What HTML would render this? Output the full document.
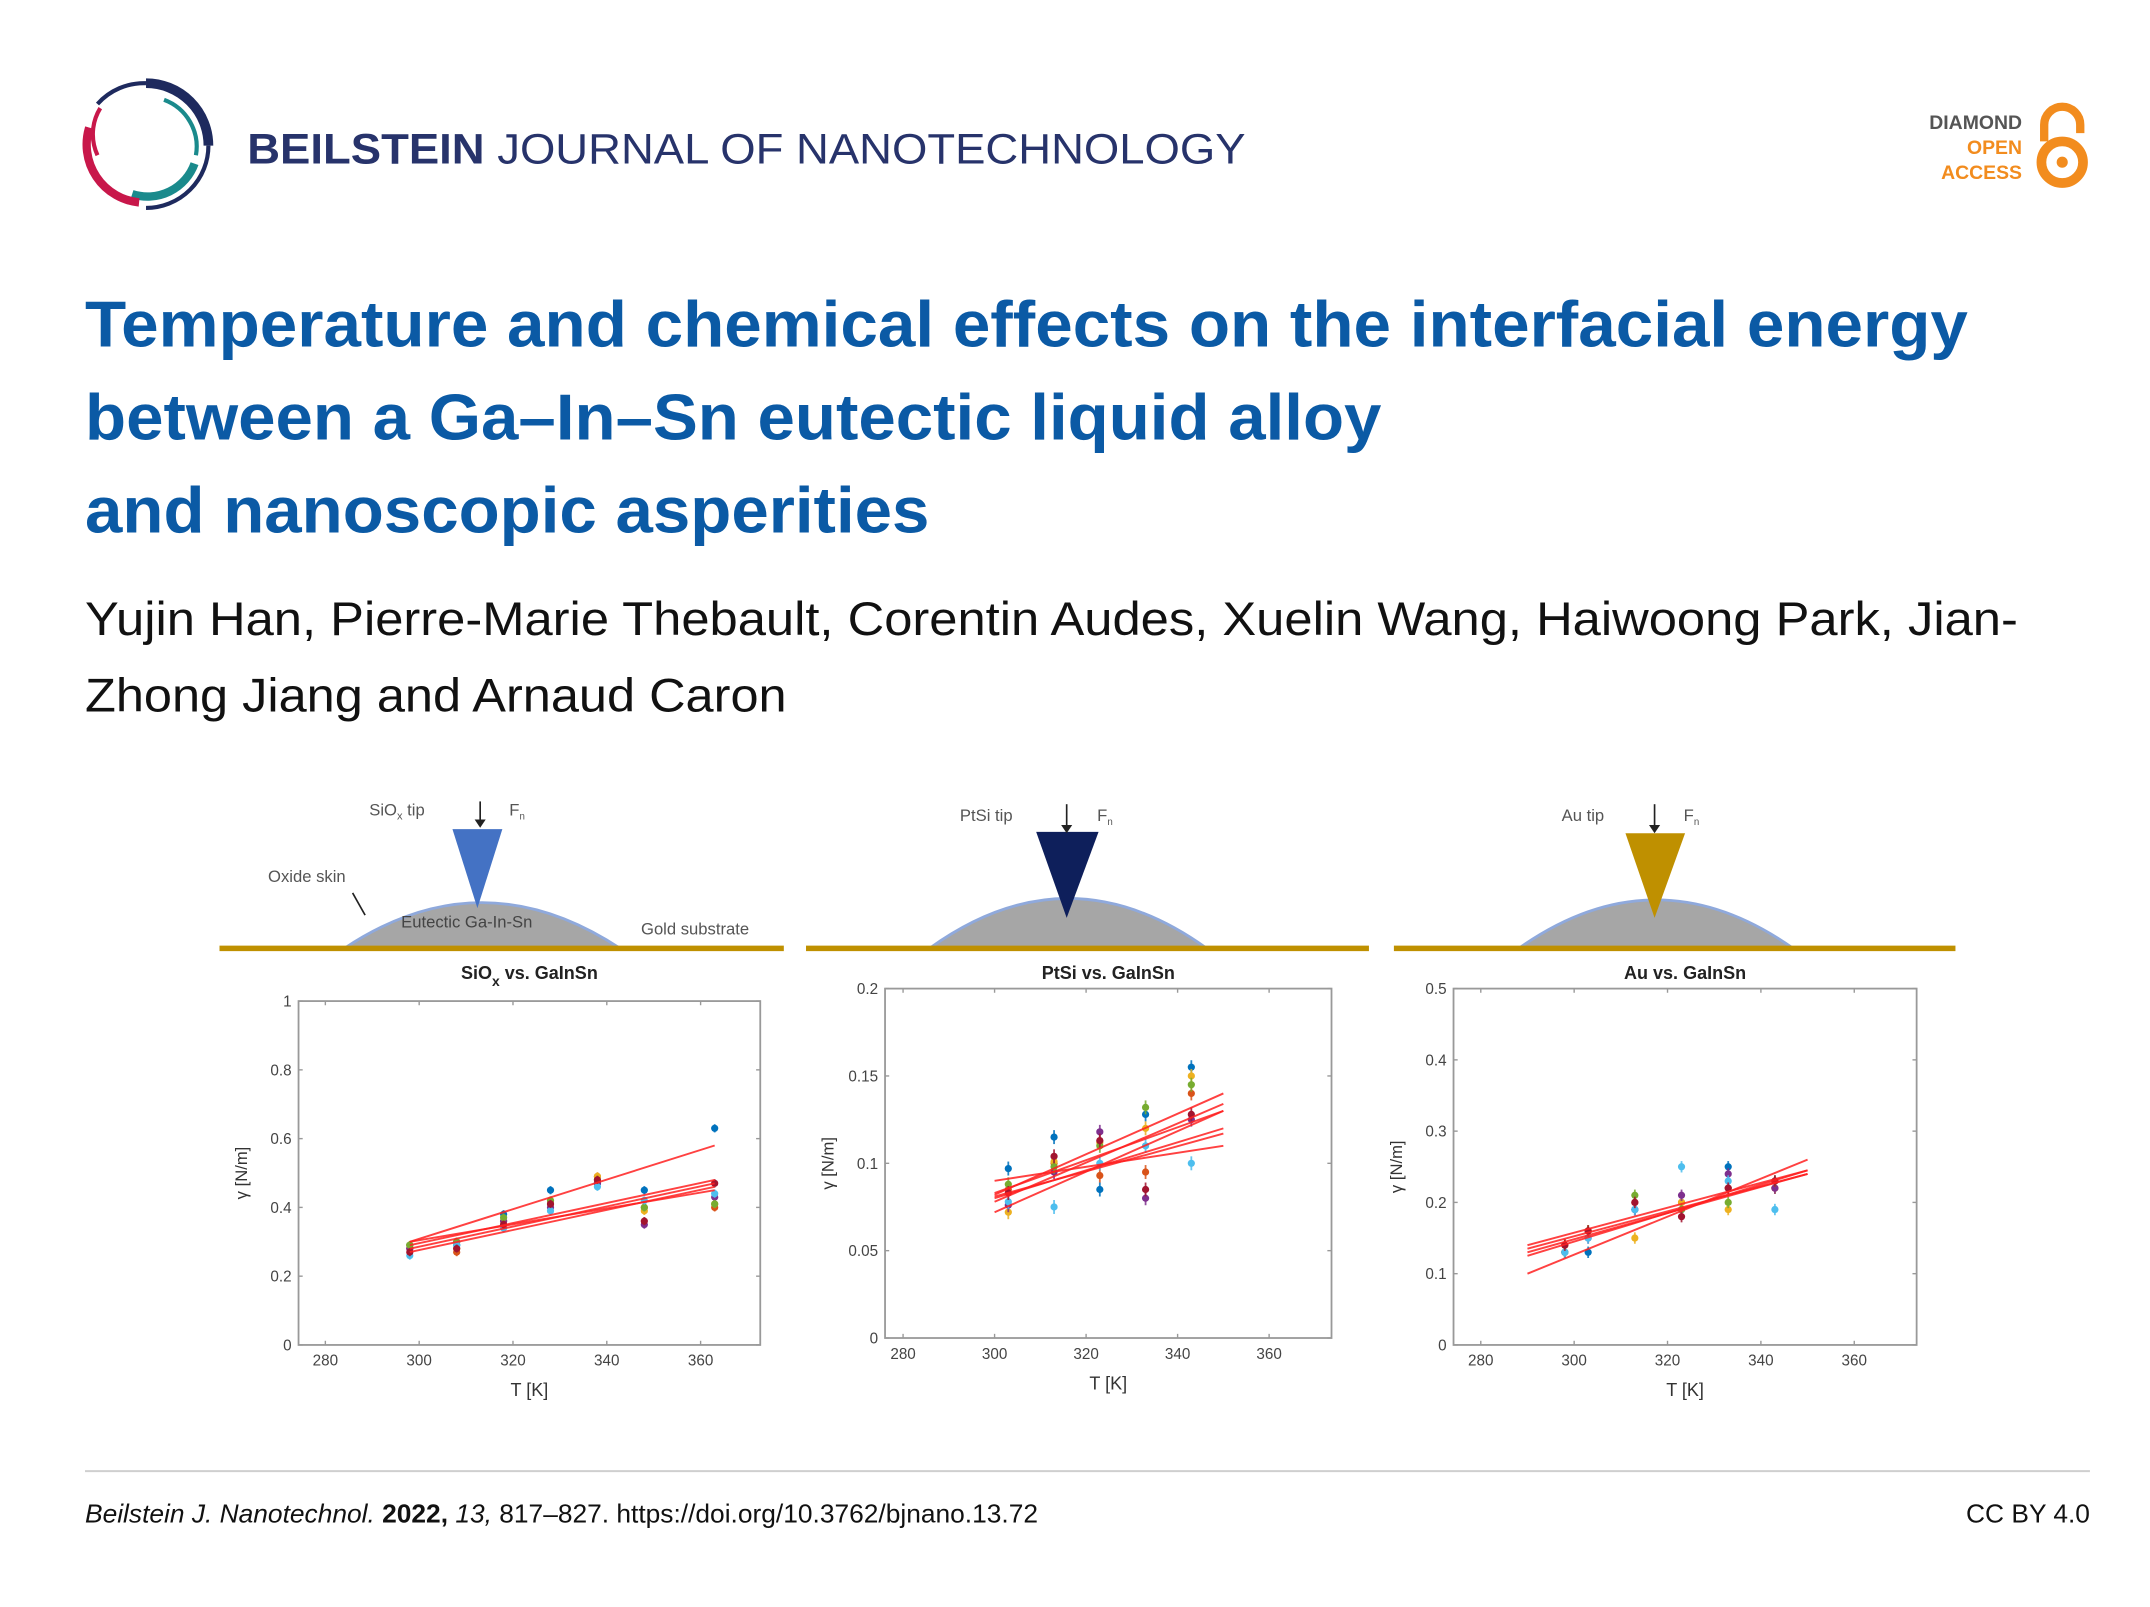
<!DOCTYPE html>
<html><head><meta charset="utf-8"><style>
html,body{margin:0;padding:0;background:#fff}
svg{display:block}
text{font-family:"Liberation Sans",sans-serif}
</style></head><body>
<svg id="root" width="2150" height="1607" viewBox="0 0 1550 1159" xmlns="http://www.w3.org/2000/svg">
<rect width="1550" height="1159" fill="#fff"/>
<g>
  <path d="M105 60 A45 45 0 0 1 150 105" fill="none" stroke="#1e2a5e" stroke-width="7"/>
  <path d="M150 105 A45 45 0 0 1 105 150" fill="none" stroke="#1e2a5e" stroke-width="3"/>
  <path d="M70 75 A45 45 0 0 1 105 60" fill="none" stroke="#1e2a5e" stroke-width="3"/>
  <path d="M140 118 A36 36 0 0 1 95 140" fill="none" stroke="#1a8a8c" stroke-width="6"/>
  <path d="M118 72 A36 36 0 0 1 141 112" fill="none" stroke="#1a8a8c" stroke-width="3"/>
  <path d="M64 92 A42 42 0 0 0 100 146" fill="none" stroke="#c8174a" stroke-width="6"/>
  <path d="M72 78 A36 36 0 0 0 70 112" fill="none" stroke="#c8174a" stroke-width="3"/>
</g>
<text x="178" y="118" font-size="31" fill="#27336b" textLength="720" lengthAdjust="spacingAndGlyphs"><tspan font-weight="bold">BEILSTEIN</tspan> JOURNAL OF NANOTECHNOLOGY</text>
<g font-weight="bold" font-size="14" text-anchor="end">
  <text x="1458" y="93" fill="#555">DIAMOND</text>
  <text x="1458" y="111" fill="#f28c1e">OPEN</text>
  <text x="1458" y="129" fill="#f28c1e">ACCESS</text>
  <path d="M1474 102 V90 A13 13 0 0 1 1500 90 V96" fill="none" stroke="#f28c1e" stroke-width="6"/>
  <circle cx="1487" cy="117" r="15" fill="none" stroke="#f28c1e" stroke-width="7"/>
  <circle cx="1487" cy="117" r="4" fill="#f28c1e"/>
</g>
<g font-weight="bold" font-size="47" fill="#0b5aa5">
  <text x="61" y="250" textLength="1358" lengthAdjust="spacingAndGlyphs">Temperature and chemical effects on the interfacial energy</text>
  <text x="61" y="317" textLength="935" lengthAdjust="spacingAndGlyphs">between a Ga–In–Sn eutectic liquid alloy</text>
  <text x="61" y="384" textLength="609" lengthAdjust="spacingAndGlyphs">and nanoscopic asperities</text>
</g>
<g font-size="34" fill="#111">
  <text x="61" y="458" textLength="1394" lengthAdjust="spacingAndGlyphs">Yujin Han, Pierre-Marie Thebault, Corentin Audes, Xuelin Wang, Haiwoong Park, Jian-</text>
  <text x="61" y="513" textLength="506" lengthAdjust="spacingAndGlyphs">Zhong Jiang and Arnaud Caron</text>
</g>
<g font-size="12" fill="#555">
  <g>
    <path d="M248 684 Q347 618 447 684 Z" fill="#a6a6a6" stroke="#8fa9dc" stroke-width="2"/>
    <line x1="158" y1="684" x2="565" y2="684" stroke="#bf9000" stroke-width="4"/>
    <path d="M326 598 L362 598 L344 655 Z" fill="#4472c4"/>
    <text x="266" y="588">SiO<tspan font-size="8" dy="3">x</tspan><tspan dy="-3"> tip</tspan></text>
    <line x1="346" y1="578" x2="346" y2="594" stroke="#222" stroke-width="1.2"/><path d="M342 591 L346 597 L350 591Z" fill="#222"/>
    <text x="367" y="588">F<tspan font-size="7" dy="3">n</tspan></text>
    <text x="193" y="636">Oxide skin</text>
    <line x1="254" y1="644" x2="263" y2="660" stroke="#222" stroke-width="1.2"/>
    <text x="289" y="669" fill="#444">Eutectic Ga-In-Sn</text>
    <text x="462" y="674">Gold substrate</text>
  </g>
  <g>
    <path d="M670 684 Q770 612 870 684 Z" fill="#a6a6a6" stroke="#8fa9dc" stroke-width="2"/>
    <line x1="581" y1="684" x2="987" y2="684" stroke="#bf9000" stroke-width="4"/>
    <path d="M747 600 L792 600 L769 662 Z" fill="#0e1f5b"/>
    <text x="692" y="592">PtSi tip</text>
    <line x1="769" y1="580" x2="769" y2="598" stroke="#222" stroke-width="1.2"/><path d="M765 595 L769 601 L773 595Z" fill="#222"/>
    <text x="791" y="592">F<tspan font-size="7" dy="3">n</tspan></text>
  </g>
  <g>
    <path d="M1095 684 Q1194 614 1293 684 Z" fill="#a6a6a6" stroke="#8fa9dc" stroke-width="2"/>
    <line x1="1005" y1="684" x2="1410" y2="684" stroke="#bf9000" stroke-width="4"/>
    <path d="M1172 601 L1215 601 L1193 662 Z" fill="#bf9000"/>
    <text x="1126" y="592">Au tip</text>
    <line x1="1193" y1="580" x2="1193" y2="598" stroke="#222" stroke-width="1.2"/><path d="M1189 595 L1193 601 L1197 595Z" fill="#222"/>
    <text x="1214" y="592">F<tspan font-size="7" dy="3">n</tspan></text>
  </g>
</g>
<g id="charts"></g>
<line x1="61" y1="1061" x2="1507" y2="1061" stroke="#cfcfcf" stroke-width="1.5"/>
<text x="61" y="1098" font-size="19" fill="#111"><tspan font-style="italic">Beilstein J. Nanotechnol.</tspan> <tspan font-weight="bold">2022,</tspan> <tspan font-style="italic">13,</tspan> 817–827. https://doi.org/10.3762/bjnano.13.72</text>
<text x="1507" y="1098" font-size="19" fill="#111" text-anchor="end">CC BY 4.0</text>
</svg>
<script>
// ---- chart data ----
const xTicks = [280, 300, 320, 340, 360];
const seriesColors = ['#0072bd', '#d95319', '#edb120', '#7e2f8e', '#77ac30', '#4dbeee', '#a2142f'];

const sioxTemps = [298, 308, 318, 328, 338, 348, 363];
const sioxBlue = [0.29, 0.29, 0.38, 0.45, 0.47, 0.45, 0.63];
const sioxOrange = [0.28, 0.27, 0.35, 0.41, 0.49, 0.40, 0.40];
const sioxYellow = [0.29, 0.28, 0.36, 0.42, 0.49, 0.39, 0.41];
const sioxPurple = [0.28, 0.30, 0.36, 0.40, 0.47, 0.35, 0.43];
const sioxGreen = [0.29, 0.30, 0.37, 0.42, 0.48, 0.40, 0.41];
const sioxCyan = [0.26, 0.29, 0.34, 0.39, 0.46, 0.42, 0.44];
const sioxRed = [0.27, 0.28, 0.35, 0.41, 0.48, 0.36, 0.47];
const sioxFitStart = [0.30, 0.28, 0.27, 0.29, 0.30];
const sioxFitEnd = [0.58, 0.47, 0.46, 0.48, 0.45];
const sioxYTicks = [0, 0.2, 0.4, 0.6, 0.8, 1];
const sioxYLabels = ['0', '0.2', '0.4', '0.6', '0.8', '1'];

const ptsiTemps = [303, 313, 323, 333, 343];
const ptsiBlue = [0.097, 0.115, 0.085, 0.128, 0.155];
const ptsiOrange = [0.085, 0.100, 0.093, 0.095, 0.140];
const ptsiYellow = [0.072, 0.101, 0.112, 0.120, 0.150];
const ptsiPurple = [0.076, 0.095, 0.118, 0.080, 0.125];
const ptsiGreen = [0.088, 0.098, 0.110, 0.132, 0.145];
const ptsiCyan = [0.078, 0.075, 0.100, 0.110, 0.100];
const ptsiRed = [0.083, 0.104, 0.113, 0.085, 0.128];
const ptsiFitStart = [0.090, 0.080, 0.081, 0.082, 0.078, 0.072, 0.083];
const ptsiFitEnd = [0.110, 0.120, 0.117, 0.140, 0.134, 0.130, 0.130];
const ptsiYTicks = [0, 0.05, 0.1, 0.15, 0.2];
const ptsiYLabels = ['0', '0.05', '0.1', '0.15', '0.2'];

const auTemps = [298, 303, 313, 323, 333, 343];
const auBlue = [0.13, 0.13, 0.19, 0.19, 0.25, 0.23];
const auOrange = [0.14, 0.16, 0.20, 0.20, 0.22, 0.22];
const auYellow = [0.14, 0.16, 0.15, 0.20, 0.19, 0.22];
const auPurple = [0.13, 0.15, 0.19, 0.21, 0.24, 0.22];
const auGreen = [0.13, 0.16, 0.21, 0.19, 0.20, 0.23];
const auCyan = [0.13, 0.15, 0.19, 0.25, 0.23, 0.19];
const auRed = [0.14, 0.16, 0.20, 0.18, 0.22, 0.23];
const auFitStart = [0.13, 0.125, 0.135, 0.10, 0.14];
const auFitEnd = [0.24, 0.245, 0.24, 0.26, 0.245];
const auYTicks = [0, 0.1, 0.2, 0.3, 0.4, 0.5];
const auYLabels = ['0', '0.1', '0.2', '0.3', '0.4', '0.5'];

const NS = 'http://www.w3.org/2000/svg';
const charts = document.getElementById('charts');
function mk(tag, attrs, parent) {
  const e = document.createElementNS(NS, tag);
  for (const k in attrs) e.setAttribute(k, attrs[k]);
  parent.appendChild(e);
  return e;
}

function drawChart(cfg) {
  const g = mk('g', {}, charts);
  
  
  const xs = T => cfg.x300 + (T - 300) * cfg.pxPerK;
  const ys = v => cfg.y0 - (v / cfg.yMax) * (cfg.y0 - cfg.top);
  const box = mk('rect', {x: cfg.left, y: cfg.top, width: cfg.right - cfg.left, height: cfg.y0 - cfg.top, fill: '#fff', stroke: '#999', 'stroke-width': 1.3}, g);
  
  
  xTicks.forEach(t => {
    const x = xs(t);
    mk('line', {x1: x, y1: cfg.y0, x2: x, y2: cfg.y0 - 3, stroke: '#999'}, g);
    mk('line', {x1: x, y1: cfg.top, x2: x, y2: cfg.top + 3, stroke: '#999'}, g);
    const tl = mk('text', {x: x, y: cfg.y0 + 15, 'font-size': 11, fill: '#444', 'text-anchor': 'middle'}, g);
    tl.textContent = t;
    
    
  });
  cfg.yTicks.forEach((v, i) => {
    const y = ys(v);
    mk('line', {x1: cfg.left, y1: y, x2: cfg.left + 3, y2: y, stroke: '#999'}, g);
    mk('line', {x1: cfg.right, y1: y, x2: cfg.right - 3, y2: y, stroke: '#999'}, g);
    const tl = mk('text', {x: cfg.left - 5, y: y + 4, 'font-size': 11, fill: '#444', 'text-anchor': 'end'}, g);
    tl.textContent = cfg.yLabels[i];
    
    
  });
  const title = mk('text', {x: (cfg.left + cfg.right) / 2, y: 706, 'font-size': 13, 'font-weight': 'bold', fill: '#222', 'text-anchor': 'middle'}, g);
  title.innerHTML = cfg.titleHtml;
  
  
  const xl = mk('text', {x: (cfg.left + cfg.right) / 2, y: cfg.y0 + 37, 'font-size': 13, fill: '#333', 'text-anchor': 'middle'}, g);
  xl.textContent = 'T [K]';
  
  
  const cy = (cfg.top + cfg.y0) / 2;
  const yl = mk('text', {x: cfg.left - 37, y: cy, 'font-size': 12, fill: '#333', 'text-anchor': 'middle', transform: 'rotate(-90 ' + (cfg.left - 37) + ' ' + cy + ')'}, g);
  yl.textContent = 'γ [N/m]';
  
  
  cfg.series.forEach((vals, si) => {
    const col = seriesColors[si % seriesColors.length];
    vals.forEach((v, i) => {
      const x = xs(cfg.temps[i]), y = ys(v);
      const err = cfg.err;
      const eb = mk('line', {x1: x, y1: ys(v - err), x2: x, y2: ys(v + err), stroke: col, 'stroke-width': 1.3, opacity: 0.85}, g);
      
      
      const p = mk('circle', {cx: x, cy: y, r: 2.6, fill: col}, g);
      
      
    });
  });
  cfg.fitStart.forEach((v, i) => {
    const l = mk('line', {x1: xs(cfg.fitT0), y1: ys(v), x2: xs(cfg.fitT1), y2: ys(cfg.fitEnd[i]), stroke: '#ff2020', 'stroke-width': 1.4, opacity: 0.85}, g);
    
    
  });
}

drawChart({name: 'siox-chart', left: 215, right: 548, top: 722, y0: 970, yMax: 1, x300: 302, pxPerK: 3.383,
  yTicks: sioxYTicks, yLabels: sioxYLabels, temps: sioxTemps, err: 0.012,
  series: [sioxBlue, sioxOrange, sioxYellow, sioxPurple, sioxGreen, sioxCyan, sioxRed],
  fitStart: sioxFitStart, fitEnd: sioxFitEnd, fitT0: 298, fitT1: 363,
  titleHtml: 'SiO<tspan font-size="10" dy="5">x</tspan><tspan dy="-5"> vs. GaInSn</tspan>'});
drawChart({name: 'ptsi-chart', left: 638, right: 960, top: 713, y0: 965, yMax: 0.2, x300: 717, pxPerK: 3.3,
  yTicks: ptsiYTicks, yLabels: ptsiYLabels, temps: ptsiTemps, err: 0.004,
  series: [ptsiBlue, ptsiOrange, ptsiYellow, ptsiPurple, ptsiGreen, ptsiCyan, ptsiRed],
  fitStart: ptsiFitStart, fitEnd: ptsiFitEnd, fitT0: 300, fitT1: 350,
  titleHtml: 'PtSi vs. GaInSn'});
drawChart({name: 'au-chart', left: 1048, right: 1382, top: 713, y0: 970, yMax: 0.5, x300: 1135, pxPerK: 3.367,
  yTicks: auYTicks, yLabels: auYLabels, temps: auTemps, err: 0.008,
  series: [auBlue, auOrange, auYellow, auPurple, auGreen, auCyan, auRed],
  fitStart: auFitStart, fitEnd: auFitEnd, fitT0: 290, fitT1: 350,
  titleHtml: 'Au vs. GaInSn'});
</script>
</body></html>
